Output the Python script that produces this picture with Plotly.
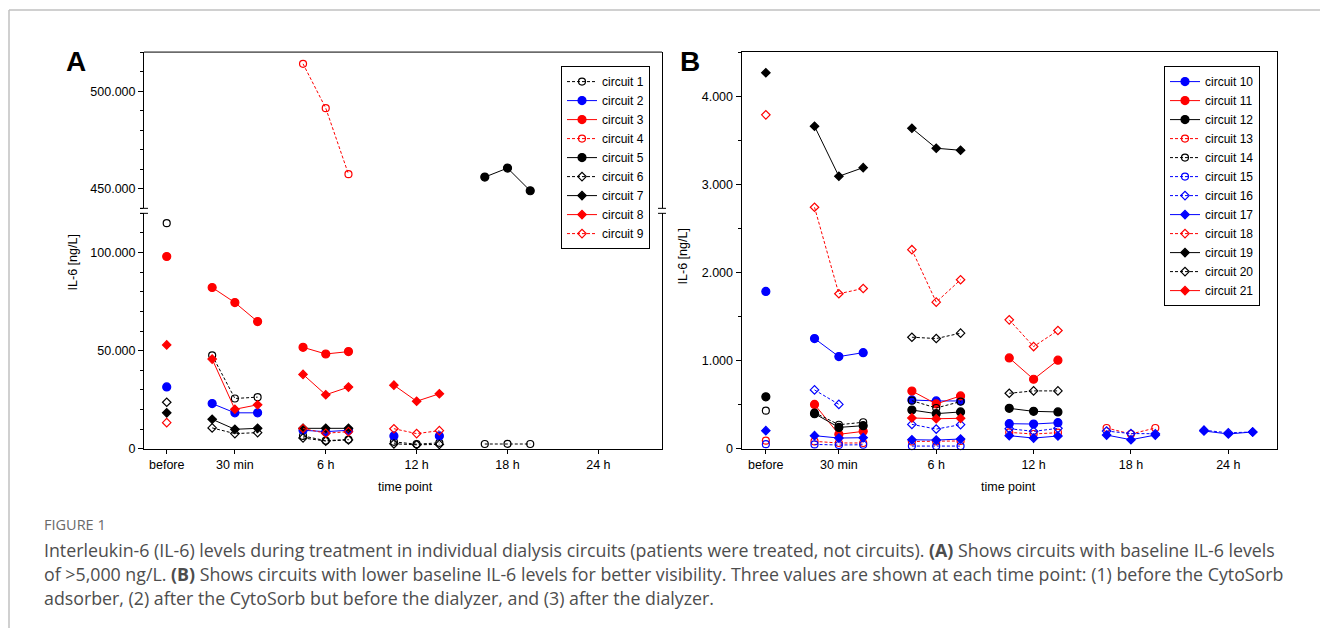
import plotly.graph_objects as go

# ---------------- data ----------------
TIME_LABELS = ["before", "30 min", "6 h", "12 h", "18 h", "24 h"]
TIME_POS = [0, 3, 7, 11, 15, 19]
SAMPLE_OFFSETS = [-1, 0, 1]   # (1) before CytoSorb, (2) before dialyzer, (3) after dialyzer
N = None

# each list: before, then 3 samples for 30 min, 6 h, 12 h, 18 h, 24 h
A_NAMES = ["circuit 1", "circuit 2", "circuit 3", "circuit 4", "circuit 5",
           "circuit 6", "circuit 7", "circuit 8", "circuit 9"]
a_c1 = [115000, 47600, 25600, 26300, 6500, 4100, 4700, 3500, 2300, 3000, 2400, 2500, 2400, N, N, N]
a_c2 = [31500, 23000, 18300, 18300, 9400, 8700, 9400, 6500, N, 6500, N, N, N, N, N, N]
a_c3 = [98000, 82200, 74500, 64800, 51700, 48300, 49500, N, N, N, N, N, N, N, N, N]
a_c4 = [N, N, N, N, 514000, 491300, 457500, N, N, N, N, N, N, N, N, N]
a_c5 = [N, N, N, N, N, N, N, N, N, N, 456000, 460600, 449000, N, N, N]
a_c6 = [23700, 10600, 7700, 8200, 5500, 3900, 4500, 2500, 2000, 2200, N, N, N, N, N, N]
a_c7 = [18300, 15000, 9900, 10400, 10400, 10400, 10400, N, N, N, N, N, N, N, N, N]
a_c8 = [52900, 45700, 20100, 22400, 37900, 27500, 31400, 32400, 24200, 28000, N, N, N, N, N, N]
a_c9 = [13300, N, N, N, 10300, 7900, 8700, 10200, 7700, 9200, N, N, N, N, N, N]
A_VALUES = [a_c1, a_c2, a_c3, a_c4, a_c5, a_c6, a_c7, a_c8, a_c9]

B_NAMES = ["circuit %d" % i for i in range(10, 22)]
b_c10 = [1785, 1250, 1045, 1090, 553, 542, 542, 284, 280, 295, N, N, N, N, N, N]
b_c11 = [N, 503, 163, 197, 655, 508, 599, 1030, 788, 1004, N, N, N, N, N, N]
b_c12 = [589, 398, 242, 261, 439, 398, 417, 458, 424, 417, N, N, N, N, N, N]
b_c13 = [91, 83, 65, 65, 82, 82, 88, 185, 167, 182, 235, 167, 235, N, N, N]
b_c14 = [432, 410, 272, 300, 545, 462, 535, N, N, N, N, N, N, N, N, N]
b_c15 = [51, 49, 42, 45, 30, 30, 30, N, N, N, N, N, N, N, N, N]
b_c16 = [N, 667, 503, N, 276, 223, 273, 227, 197, 231, 200, 172, 170, 210, 180, 190]
b_c17 = [205, 148, 121, 125, 102, 98, 110, 148, 121, 144, 155, 102, 155, 201, 167, 190]
b_c18 = [3788, 2739, 1758, 1818, 2258, 1663, 1917, 1462, 1159, 1341, N, N, N, N, N, N]
b_c19 = [4265, 3659, 3091, 3189, 3636, 3409, 3386, N, N, N, N, N, N, N, N, N]
b_c20 = [N, N, N, N, 1265, 1250, 1311, 629, 656, 656, N, N, N, N, N, N]
b_c21 = [N, N, N, N, 349, 340, 345, N, N, N, N, N, N, N, N, N]
B_VALUES = [b_c10, b_c11, b_c12, b_c13, b_c14, b_c15, b_c16, b_c17, b_c18, b_c19, b_c20, b_c21]

CAPTION_HEAD = "FIGURE 1"
CAPTION_LINES = [
    "Interleukin-6 (IL-6) levels during treatment in individual dialysis circuits (patients were treated, not circuits). <b>(A)</b> Shows circuits with baseline IL-6 levels",
    "of &gt;5,000 ng/L. <b>(B)</b> Shows circuits with lower baseline IL-6 levels for better visibility. Three values are shown at each time point: (1) before the CytoSorb",
    "adsorber, (2) after the CytoSorb but before the dialyzer, and (3) after the dialyzer.",
]

# ---------------- styles ----------------
RED, BLUE, BLACK = "#ff0000", "#0000ff", "#000000"
# (color, dashed, symbol)
A_STYLES = [
    (BLACK, True, "circle-open"), (BLUE, False, "circle"), (RED, False, "circle"),
    (RED, True, "circle-open"), (BLACK, False, "circle"), (BLACK, True, "diamond-open"),
    (BLACK, False, "diamond"), (RED, False, "diamond"), (RED, True, "diamond-open"),
]
B_STYLES = [
    (BLUE, False, "circle"), (RED, False, "circle"), (BLACK, False, "circle"),
    (RED, True, "circle-open"), (BLACK, True, "circle-open"), (BLUE, True, "circle-open"),
    (BLUE, True, "diamond-open"), (BLUE, False, "diamond"), (RED, True, "diamond-open"),
    (BLACK, False, "diamond"), (BLACK, True, "diamond-open"), (RED, False, "diamond"),
]
MARKER_SIZES = {"circle": 8, "circle-open": 7, "diamond": 6.5, "diamond-open": 6.5}

W = 1320
REF_H = 628          # layout positions below are given in 628-px page coordinates
FIG_H = 636          # rendered figure height (photo comes out slightly compressed)
def fx(px):
    return px / W
def fy(py):
    return 1 - py / REF_H

FONT = "Liberation Sans, Arial, sans-serif"
CAP_FONT = "Open Sans, sans-serif"


def series_xy(vals):
    xs, ys = [TIME_POS[0]], [vals[0]]
    for i, t in enumerate(TIME_POS[1:]):
        xs.append(None)
        ys.append(None)
        for j, o in enumerate(SAMPLE_OFFSETS):
            xs.append(t + o)
            ys.append(vals[1 + 3 * i + j])
    return xs, ys


def make_trace(name, vals, style, xaxis, yaxis, legend):
    color, dashed, symbol = style
    xs, ys = series_xy(vals)
    return go.Scatter(
        x=xs, y=ys, name=name, mode="lines+markers",
        xaxis=xaxis, yaxis=yaxis, legend=legend,
        line=dict(color=color, width=1, dash="3px,2px" if dashed else "solid"),
        marker=dict(symbol=symbol, size=MARKER_SIZES[symbol], color=color,
                    line=dict(color=color, width=1.2)),
        connectgaps=False, cliponaxis=False,
    )


fig = go.Figure()
for name, vals, st in zip(A_NAMES, A_VALUES, A_STYLES):
    vmax = max(v for v in vals if v is not None)
    fig.add_trace(make_trace(name, vals, st, "x", "y2" if vmax > 200000 else "y", "legend"))
for name, vals, st in zip(B_NAMES, B_VALUES, B_STYLES):
    fig.add_trace(make_trace(name, vals, st, "x3", "y3", "legend2"))

axis_common = dict(showline=True, linecolor="black", linewidth=1, showgrid=False,
                   zeroline=False, ticks="outside", tickcolor="black",
                   tickfont=dict(family=FONT, size=12.5, color="black"))

A_X0, A_X1 = 144, 662
B_X0, B_X1 = 741.5, 1277
Y_BOT, Y_TOP = 448, 52
A_LOW_TOP, A_UP_BOT = 213, 208

fig.update_layout(
    width=W, height=FIG_H, margin=dict(l=0, r=0, t=0, b=0),
    paper_bgcolor="white", plot_bgcolor="white",
    separators=",.",
    showlegend=True,
    xaxis=dict(domain=[fx(A_X0), fx(A_X1)], anchor="y", range=[-1, 21.8],
               tickmode="array", tickvals=TIME_POS, ticktext=TIME_LABELS, ticklen=4,
               **axis_common),
    yaxis=dict(domain=[fy(Y_BOT), fy(A_LOW_TOP)], anchor="x", range=[0, 120000],
               dtick=50000, tickformat=",d", mirror=True, ticklen=5,
               minor=dict(dtick=10000, ticks="outside", ticklen=3, tickcolor="black"),
               **axis_common),
    yaxis2=dict(domain=[fy(A_UP_BOT), fy(Y_TOP)], anchor="x", range=[440000, 520000],
                dtick=50000, tickformat=",d", mirror=True, ticklen=5,
                minor=dict(dtick=10000, ticks="outside", ticklen=3, tickcolor="black"),
                **axis_common),
    xaxis3=dict(domain=[fx(B_X0), fx(B_X1)], anchor="y3", range=[-1, 21], mirror=True,
                tickmode="array", tickvals=TIME_POS, ticktext=TIME_LABELS, ticklen=4,
                **axis_common),
    yaxis3=dict(domain=[fy(Y_BOT), fy(Y_TOP)], anchor="x3", range=[0, 4500],
                dtick=1000, tickformat=",d", mirror=True, ticklen=5,
                minor=dict(dtick=500, ticks="outside", ticklen=3, tickcolor="black"),
                **axis_common),
    legend=dict(x=fx(650), y=fy(66), xanchor="right", yanchor="top",
                bordercolor="black", borderwidth=1, bgcolor="white",
                font=dict(family=FONT, size=12, color="black"),
                itemwidth=30, tracegroupgap=0),
    legend2=dict(x=fx(1260), y=fy(66), xanchor="right", yanchor="top",
                 bordercolor="black", borderwidth=1, bgcolor="white",
                 font=dict(family=FONT, size=12, color="black"),
                 itemwidth=30, tracegroupgap=0),
)

# figure frame, panel-A top border and axis break marks
shapes = [
    dict(type="line", xref="paper", yref="paper", x0=fx(9), x1=1, y0=fy(10), y1=fy(10),
         line=dict(color="#c0c0c0", width=1.5)),
    dict(type="line", xref="paper", yref="paper", x0=fx(9), x1=fx(9), y0=fy(10), y1=0,
         line=dict(color="#c0c0c0", width=1.5)),
    dict(type="line", xref="paper", yref="paper", x0=fx(A_X0), x1=fx(A_X1),
         y0=fy(Y_TOP), y1=fy(Y_TOP), line=dict(color="black", width=1)),
]
for px in (A_X0, A_X1):
    for py in (A_UP_BOT, A_LOW_TOP):
        shapes.append(dict(type="line", xref="paper", yref="paper",
                           x0=fx(px - 4), x1=fx(px + 4), y0=fy(py), y1=fy(py),
                           line=dict(color="black", width=1)))
fig.update_layout(shapes=shapes)


def text_ann(text, px, py, size, family=FONT, color="black", xanchor="center",
             angle=0):
    return dict(text=text, x=fx(px), y=fy(py), xref="paper", yref="paper",
                xanchor=xanchor, yanchor="middle", showarrow=False, textangle=angle,
                font=dict(family=family, size=size, color=color))


ann = [
    text_ann("<b>A</b>", 76, 61, 28),
    text_ann("<b>B</b>", 690, 61, 28),
    text_ann("IL-6 [ng/L]", 73, 262, 12.5, angle=-90),
    text_ann("IL-6 [ng/L]", 683, 256, 12.5, angle=-90),
    text_ann("time point", 405, 486, 12.5),
    text_ann("time point", 1008, 486, 12.5),
    text_ann(CAPTION_HEAD, 42, 524, 14.5, family=CAP_FONT, color="#6a6a6a", xanchor="left"),
]
for i, line in enumerate(CAPTION_LINES):
    ann.append(text_ann(line, 42, 549 + 24 * i, 17.8, family=CAP_FONT, color="#4d4d4d",
                        xanchor="left"))
fig.update_layout(annotations=ann)

PAGE_FIX = (
    "var de=document.documentElement, b=document.body;"
    "de.style.margin='0';de.style.padding='0';de.style.overflow='hidden';"
    "b.style.margin='0';b.style.padding='0';b.style.overflow='hidden';"
)
fig.write_html("out.html", config={"displayModeBar": False}, post_script=PAGE_FIX)
